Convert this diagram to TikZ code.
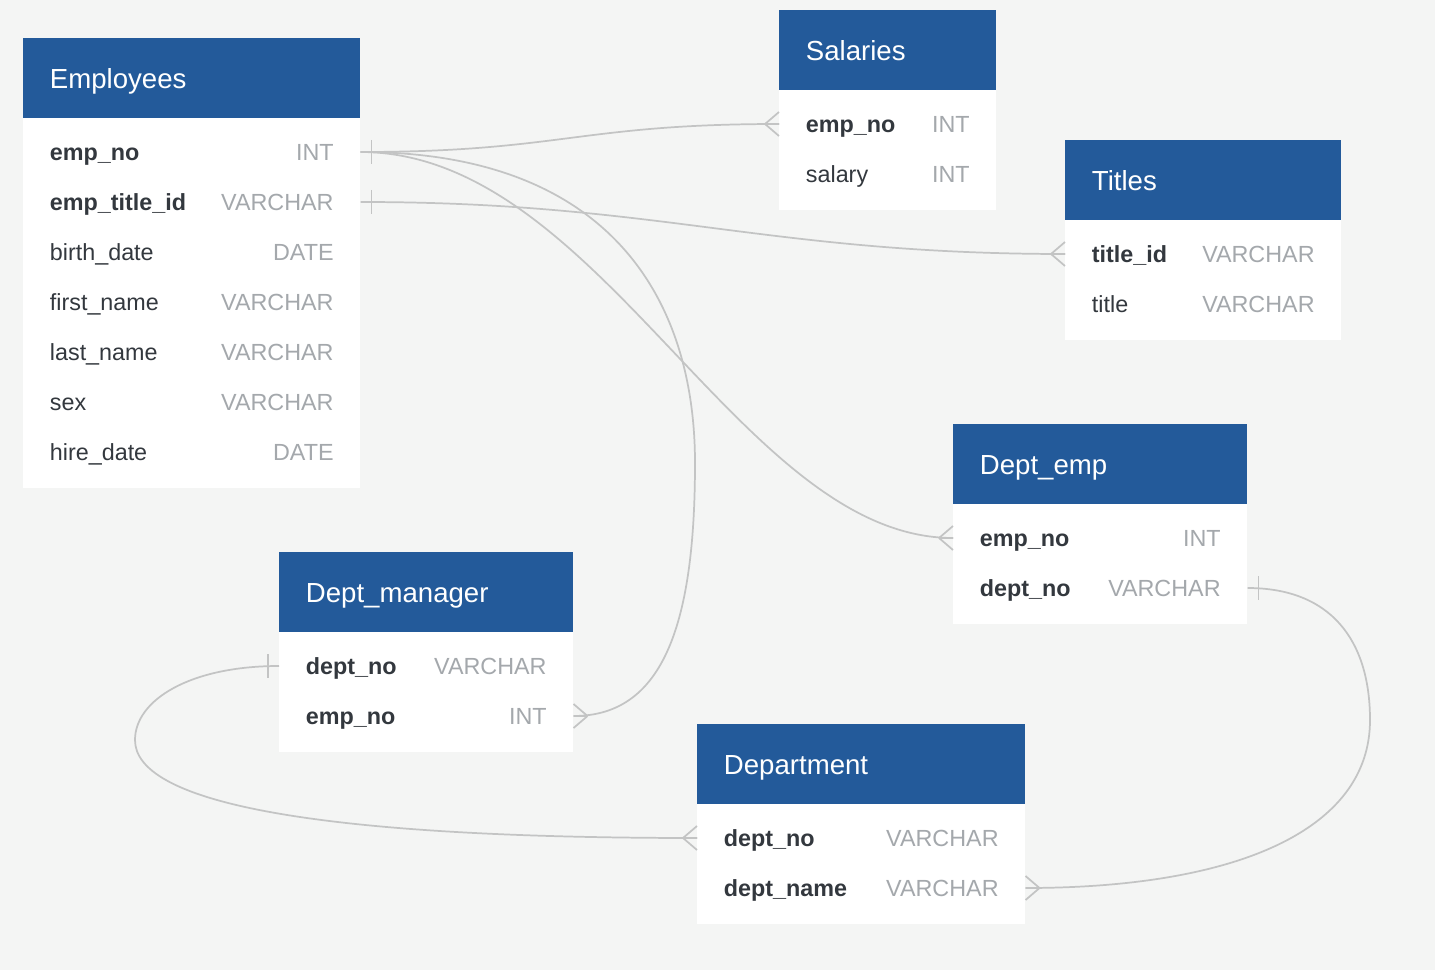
\documentclass[tikz,border=0pt]{standalone}
\usepackage{fontspec}
\setmainfont{Liberation Sans}

\definecolor{bgc}{HTML}{F4F5F4}
\definecolor{hblue}{HTML}{235A9A}
\definecolor{ink}{HTML}{33383E}
\definecolor{tgray}{HTML}{A4A8AC}
\definecolor{lgray}{HTML}{C3C4C4}

\newcommand\headfont{\fontsize{20.7}{25}\selectfont}
\newcommand\rowfont{\fontsize{17.5}{21}\selectfont}
\newcommand\dtype[1]{\textcolor{tgray}{#1}}

\tikzset{
  head/.style={anchor=north west, fill=hblue, text=white, font=\headfont,
    inner xsep=20pt, inner ysep=0pt, minimum height=60pt, text width=#1,
    text height=15pt, text depth=0pt},
  body/.style n args={2}{anchor=north west, fill=white, inner sep=0pt,
    minimum width=#1, minimum height=#2},
  row/.style={anchor=west, inner xsep=20pt, inner ysep=0pt,
    minimum height=37.5pt, text width=#1, font=\rowfont, text=ink,
    text height=12.8pt, text depth=0pt},
  conn/.style={draw=lgray, line width=1.3pt},
  crowL/.pic={\draw[conn] (-14,0) -- (0,-12) (-14,0) -- (0,12) (-14,0) -- (0,0);},
  crowR/.pic={\draw[conn] (14,0) -- (0,-12) (14,0) -- (0,12) (14,0) -- (0,0);},
  barL/.pic={\draw[conn] (-11,-12) -- (-11,12);},
  barR/.pic={\draw[conn] (11,-12) -- (11,12);}
}

\begin{document}
\begin{tikzpicture}[x=0.75pt, y=-0.75pt]
\fill[bgc] (0,0) rectangle (1435,970);

\path (23,38) node[head=212.75pt] (emphead) {Employees}
      (23,118) node[body={252.75pt}{277.5pt}] (empbody) {}
      (23,152) node[row=212.75pt] (empno) {\textbf{emp\_no}\hfill\dtype{INT}}
      (23,202) node[row=212.75pt] (emptitle) {\textbf{emp\_title\_id}\hfill\dtype{VARCHAR}}
      (23,252) node[row=212.75pt] (empbirth) {birth\_date\hfill\dtype{DATE}}
      (23,302) node[row=212.75pt] (empfirst) {first\_name\hfill\dtype{VARCHAR}}
      (23,352) node[row=212.75pt] (emplast) {last\_name\hfill\dtype{VARCHAR}}
      (23,402) node[row=212.75pt] (empsex) {sex\hfill\dtype{VARCHAR}}
      (23,452) node[row=212.75pt] (emphire) {hire\_date\hfill\dtype{DATE}};

\path (779,10) node[head=122.75pt] (salhead) {Salaries}
      (779,90) node[body={162.75pt}{90pt}] (salbody) {}
      (779,124) node[row=122.75pt] (salno) {\textbf{emp\_no}\hfill\dtype{INT}}
      (779,174) node[row=122.75pt] (salary) {salary\hfill\dtype{INT}};

\path (1065,140) node[head=167pt] (tithead) {Titles}
      (1065,220) node[body={207pt}{90pt}] (titbody) {}
      (1065,254) node[row=167pt] (titleid) {\textbf{title\_id}\hfill\dtype{VARCHAR}}
      (1065,304) node[row=167pt] (title) {title\hfill\dtype{VARCHAR}};

\path (953,424) node[head=180.5pt] (dehead) {Dept\_emp}
      (953,504) node[body={220.5pt}{90pt}] (debody) {}
      (953,538) node[row=180.5pt] (deno) {\textbf{emp\_no}\hfill\dtype{INT}}
      (953,588) node[row=180.5pt] (dedept) {\textbf{dept\_no}\hfill\dtype{VARCHAR}};

\path (279,552) node[head=180.5pt] (dmhead) {Dept\_manager}
      (279,632) node[body={220.5pt}{90pt}] (dmbody) {}
      (279,666) node[row=180.5pt] (dmdept) {\textbf{dept\_no}\hfill\dtype{VARCHAR}}
      (279,716) node[row=180.5pt] (dmno) {\textbf{emp\_no}\hfill\dtype{INT}};

\path (697,724) node[head=206pt] (dphead) {Department}
      (697,804) node[body={246pt}{90pt}] (dpbody) {}
      (697,838) node[row=206pt] (dpno) {\textbf{dept\_no}\hfill\dtype{VARCHAR}}
      (697,888) node[row=206pt] (dpname) {\textbf{dept\_name}\hfill\dtype{VARCHAR}};

\draw[conn] (empno.east) .. controls +(200,0) and +(-200,0) .. (salno.west);
\draw[conn] (emptitle.east) .. controls +(300,0) and +(-300,0) .. (titleid.west);
\draw[conn] (empno.east) .. controls +(240,0) and +(-213,0) .. (deno.west);
\draw[conn] (empno.east) .. controls +(250,0) and +(0,-163) .. (695,463)
            .. controls +(0,167) and +(87,0) .. (dmno.east);
\draw[conn] (dedept.east) .. controls +(83,0) and +(0,-80) .. (1370,720)
            .. controls +(0,110) and +(211,0) .. (dpname.east);
\draw[conn] (dmdept.west) .. controls +(-89,0) and +(0,-40) .. (135,740)
            .. controls +(0,60) and +(-397,0) .. (dpno.west);

\path (empno.east) pic{barR}
      (emptitle.east) pic{barR}
      (salno.west) pic{crowL}
      (titleid.west) pic{crowL}
      (deno.west) pic{crowL}
      (dmno.east) pic{crowR}
      (dedept.east) pic{barR}
      (dpname.east) pic{crowR}
      (dmdept.west) pic{barL}
      (dpno.west) pic{crowL};
\end{tikzpicture}
\end{document}
